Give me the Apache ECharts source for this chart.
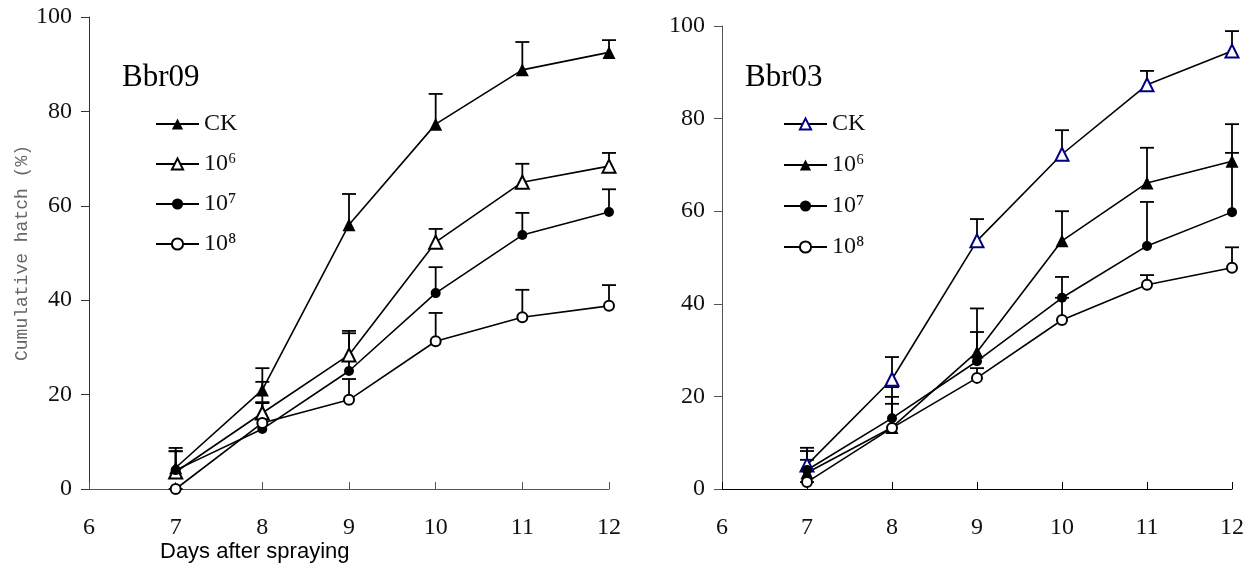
<!DOCTYPE html>
<html>
<head>
<meta charset="utf-8">
<script src="https://cdn.jsdelivr.net/npm/echarts@6/dist/echarts.min.js"></script>
<style>
  html, body { margin: 0; padding: 0; background: #fff; }
  #chart { width: 1247px; height: 567px; }
</style>
</head>
<body>
<div id="chart"></div>
<script>
// days after spraying
var days = [7, 8, 9, 10, 11, 12];
var legendNames = ['CK', '10⁶', '10⁷', '10⁸'];
var yTicks = [0, 20, 40, 60, 80, 100];

// Bbr09 - mean cumulative hatch (%) and SD
var bbr09CK = [4.5, 21.0, 56.0, 77.3, 88.8, 92.5];
var bbr09CKsd = [4.2, 4.6, 6.5, 6.4, 5.9, 2.6];
var bbr09E6 = [3.6, 16.1, 28.4, 52.3, 65.0, 68.4];
var bbr09E6sd = [4.4, 2.3, 5.1, 2.8, 3.9, 2.8];
var bbr09E7 = [4.0, 12.7, 25.0, 41.5, 53.8, 58.7];
var bbr09E7sd = [4.0, 10.0, 8.0, 5.5, 4.7, 4.8];
var bbr09E8 = [0.0, 14.0, 18.9, 31.3, 36.4, 38.8];
var bbr09E8sd = [0.0, 4.2, 4.4, 6.0, 5.8, 4.4];

// Bbr03
var bbr03CK = [5.2, 23.7, 53.6, 72.3, 87.3, 94.6];
var bbr03CKsd = [3.7, 4.8, 4.7, 5.2, 3.0, 4.3];
var bbr03E6 = [3.5, 13.3, 29.6, 53.6, 66.1, 70.8];
var bbr03E6sd = [4.7, 6.6, 9.4, 6.4, 7.6, 8.0];
var bbr03E7 = [4.1, 15.3, 27.6, 41.3, 52.5, 59.8];
var bbr03E7sd = [2.2, 6.7, 6.3, 4.5, 9.5, 12.8];
var bbr03E8 = [1.5, 13.2, 24.0, 36.5, 44.1, 47.8];
var bbr03E8sd = [0.0, 5.2, 2.1, 4.8, 2.1, 4.4];

var serif = 'Liberation Serif';

function pts(vals) {
    return days.map(function (d, i) { return [d, vals[i]]; });
}
function errPts(vals, sd) {
    return days.map(function (d, i) { return [d, vals[i], vals[i] + sd[i]]; });
}

function errRender(params, api) {
    var p = api.coord([api.value(0), api.value(1)]);
    var t = api.coord([api.value(0), api.value(2)]);
    var st = { stroke: '#000', lineWidth: 1.8 };
    return {
        type: 'group',
        children: [
            { type: 'line', shape: { x1: p[0], y1: p[1], x2: t[0], y2: t[1] }, style: st },
            { type: 'line', shape: { x1: t[0] - 7, y1: t[1], x2: t[0] + 7, y2: t[1] }, style: st }
        ]
    };
}

function lineSeries(name, idx, vals, symbol, color) {
    var isCircle = symbol.indexOf('ircle') > -1;
    return {
        name: name,
        type: 'line',
        xAxisIndex: idx,
        yAxisIndex: idx,
        data: pts(vals),
        symbol: symbol,
        symbolSize: isCircle ? 10 : 13,
        showAllSymbol: true,
        lineStyle: { color: '#000', width: 1.6 },
        itemStyle: { color: color || '#000', borderWidth: 1.5 },
        z: 3
    };
}
function errSeries(idx, vals, sd) {
    return {
        type: 'custom',
        xAxisIndex: idx,
        yAxisIndex: idx,
        data: errPts(vals, sd),
        renderItem: errRender,
        z: 2
    };
}

function xAxisOpt(idx, color) {
    return {
        type: 'value', gridIndex: idx, min: 6, max: 12, interval: 1,
        axisLine: { lineStyle: { color: color, width: 1 } },
        axisTick: { inside: true, length: 7, lineStyle: { color: color } },
        axisLabel: { color: '#111', fontFamily: serif, fontSize: 24, margin: 27 },
        splitLine: { show: false }
    };
}
function yAxisOpt(idx, color) {
    return {
        type: 'value', gridIndex: idx, min: yTicks[0], max: yTicks[yTicks.length - 1], interval: 20,
        axisLine: { show: true, lineStyle: { color: color, width: 1 } },
        axisTick: { show: true, length: 8, lineStyle: { color: color } },
        axisLabel: { color: '#111', fontFamily: serif, fontSize: 24, margin: 17 },
        splitLine: { show: false }
    };
}

var chart = echarts.init(document.getElementById('chart'));
chart.setOption({
    animation: false,
    backgroundColor: '#fff',
    title: [
        { text: 'Bbr09', left: 122, top: 62, padding: 0,
          textStyle: { fontFamily: serif, fontSize: 31, fontWeight: 'normal', color: '#000' } },
        { text: 'Bbr03', left: 745, top: 62, padding: 0,
          textStyle: { fontFamily: serif, fontSize: 31, fontWeight: 'normal', color: '#000' } }
    ],
    legend: [
        {
            orient: 'vertical', left: 155, top: 112, padding: 0,
            itemWidth: 43, itemHeight: 14, itemGap: 16,
            data: ['L CK', 'L 10⁶', 'L 10⁷', 'L 10⁸'],
            formatter: function (n) { return n.slice(2); },
            textStyle: { fontFamily: serif, fontSize: 24, lineHeight: 24, color: '#111' }
        },
        {
            orient: 'vertical', left: 783, top: 112, padding: 0,
            itemWidth: 43, itemHeight: 14, itemGap: 17,
            data: ['R CK', 'R 10⁶', 'R 10⁷', 'R 10⁸'],
            formatter: function (n) { return n.slice(2); },
            textStyle: { fontFamily: serif, fontSize: 24, lineHeight: 24, color: '#111' }
        }
    ],
    grid: [
        { left: 89, top: 17, width: 520, height: 472 },
        { left: 722, top: 26, width: 511, height: 463 }
    ],
    xAxis: [xAxisOpt(0, '#555'), xAxisOpt(1, '#000')],
    yAxis: [
        Object.assign(yAxisOpt(0, '#333'), {
            name: 'Cumulative hatch (%)', nameLocation: 'middle', nameRotate: 90, nameGap: 58,
            nameTextStyle: { fontFamily: 'Liberation Mono', fontSize: 18, color: '#666' }
        }),
        yAxisOpt(1, '#555')
    ],
    graphic: [
        { type: 'text', left: 160, top: 541,
          style: { text: 'Days after spraying', font: '22px "Liberation Sans"', fill: '#000' } }
    ],
    series: [
        errSeries(0, bbr09CK, bbr09CKsd),
        errSeries(0, bbr09E6, bbr09E6sd),
        errSeries(0, bbr09E7, bbr09E7sd),
        errSeries(0, bbr09E8, bbr09E8sd),
        lineSeries('L ' + legendNames[0], 0, bbr09CK, 'triangle'),
        lineSeries('L ' + legendNames[1], 0, bbr09E6, 'emptyTriangle'),
        lineSeries('L ' + legendNames[2], 0, bbr09E7, 'circle'),
        lineSeries('L ' + legendNames[3], 0, bbr09E8, 'emptyCircle'),
        errSeries(1, bbr03CK, bbr03CKsd),
        errSeries(1, bbr03E6, bbr03E6sd),
        errSeries(1, bbr03E7, bbr03E7sd),
        errSeries(1, bbr03E8, bbr03E8sd),
        lineSeries('R ' + legendNames[0], 1, bbr03CK, 'emptyTriangle', '#000080'),
        lineSeries('R ' + legendNames[1], 1, bbr03E6, 'triangle'),
        lineSeries('R ' + legendNames[2], 1, bbr03E7, 'circle'),
        lineSeries('R ' + legendNames[3], 1, bbr03E8, 'emptyCircle')
    ]
});
</script>
</body>
</html>
